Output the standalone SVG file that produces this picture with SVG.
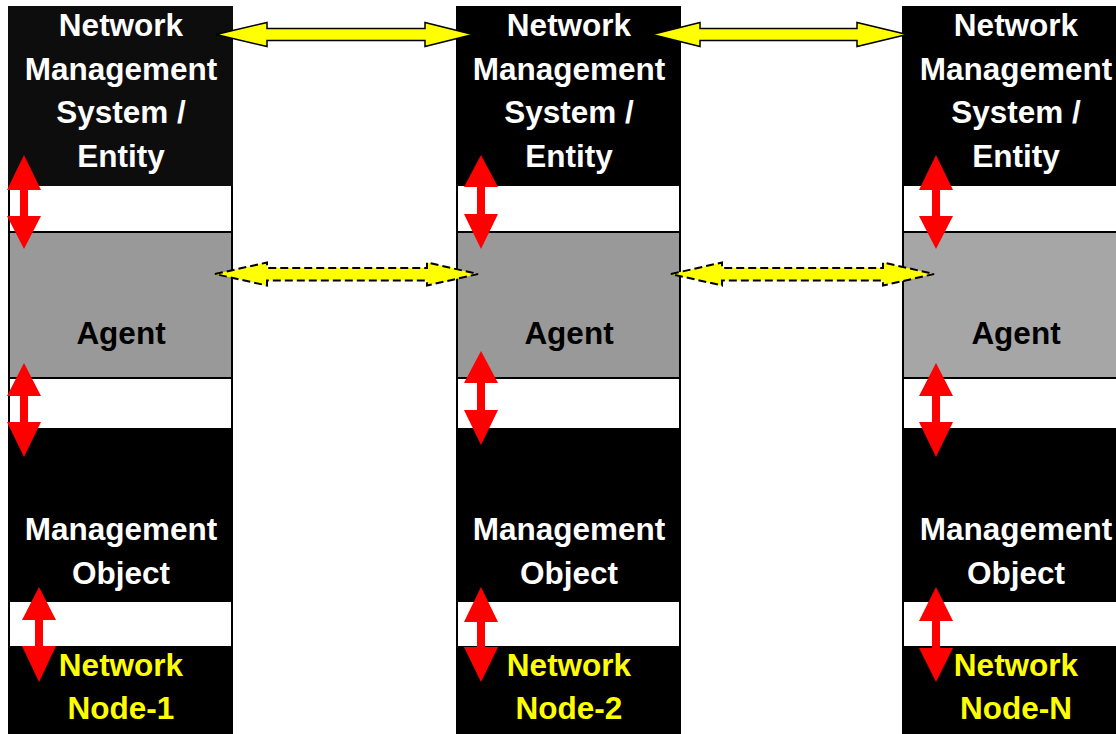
<svg xmlns="http://www.w3.org/2000/svg" width="1116" height="734" viewBox="0 0 1116 734">
<style>
text{font-family:"Liberation Sans",Arial,sans-serif;font-weight:bold;font-size:31.5px;text-anchor:middle}
.w{fill:#fff}.k{fill:#000}.y{fill:#ff0}
.red{fill:#f00}
.ys{fill:#ff0;stroke:#000;stroke-width:1.5;stroke-linejoin:miter}
.yd{fill:#ff0;stroke:#000;stroke-width:2;stroke-dasharray:8 4}
</style>
<rect width="1116" height="734" fill="#fff"/>

<g id="node1">
<rect x="8" y="6" width="225" height="730" fill="#000"/>
<rect x="8" y="6" width="225" height="180" fill="#0d0d0d"/>
<rect x="10" y="186" width="221" height="45" fill="#fff"/>
<rect x="10" y="233" width="221" height="144" fill="#999"/>
<rect x="10" y="379" width="221" height="49" fill="#fff"/>
<rect x="10" y="602" width="221" height="44" fill="#fff"/>
<text class="w" x="121" y="36">Network</text>
<text class="w" x="121" y="80">Management</text>
<text class="w" x="121" y="123">System /</text>
<text class="w" x="121" y="167">Entity</text>
<text class="k" x="121" y="344">Agent</text>
<text class="w" x="121" y="540">Management</text>
<text class="w" x="121" y="584">Object</text>
<text class="y" x="121" y="676">Network</text>
<text class="y" x="121" y="719">Node-1</text>
</g>

<g id="node2">
<rect x="456" y="6" width="225" height="730" fill="#000"/>
<rect x="458" y="186" width="221" height="45" fill="#fff"/>
<rect x="458" y="233" width="221" height="144" fill="#999"/>
<rect x="458" y="379" width="221" height="49" fill="#fff"/>
<rect x="458" y="602" width="221" height="44" fill="#fff"/>
<text class="w" x="569" y="36">Network</text>
<text class="w" x="569" y="80">Management</text>
<text class="w" x="569" y="123">System /</text>
<text class="w" x="569" y="167">Entity</text>
<text class="k" x="569" y="344">Agent</text>
<text class="w" x="569" y="540">Management</text>
<text class="w" x="569" y="584">Object</text>
<text class="y" x="569" y="676">Network</text>
<text class="y" x="569" y="719">Node-2</text>
</g>

<g id="nodeN">
<rect x="902" y="6" width="225" height="730" fill="#000"/>
<rect x="904" y="186" width="221" height="45" fill="#fff"/>
<rect x="904" y="233" width="221" height="144" fill="#a6a6a6"/>
<rect x="904" y="379" width="221" height="49" fill="#fff"/>
<rect x="904" y="602" width="221" height="44" fill="#fff"/>
<text class="w" x="1016" y="36">Network</text>
<text class="w" x="1016" y="80">Management</text>
<text class="w" x="1016" y="123">System /</text>
<text class="w" x="1016" y="167">Entity</text>
<text class="k" x="1016" y="344">Agent</text>
<text class="w" x="1016" y="540">Management</text>
<text class="w" x="1016" y="584">Object</text>
<text class="y" x="1016" y="676">Network</text>
<text class="y" x="1016" y="719">Node-N</text>
</g>

<g id="connectors">
<polygon class="red" points="24,155 41,190 28,190 28,216 41,216 24,249 7,216 20,216 20,190 7,190"/>
<polygon class="red" points="24,363 41,396 28,396 28,422 41,422 24,457 7,422 20,422 20,396 7,396"/>
<polygon class="red" points="39,587 56,620 43,620 43,646 56,646 39,682 22,646 35,646 35,620 22,620"/>
<polygon class="red" points="481,155 498,187 485,187 485,214 498,214 481,249 464,214 477,214 477,187 464,187"/>
<polygon class="red" points="481,351 498,383 485,383 485,410 498,410 481,445 464,410 477,410 477,383 464,383"/>
<polygon class="red" points="481,587 498,622 485,622 485,647 498,647 481,682 464,647 477,647 477,622 464,622"/>
<polygon class="red" points="936,155 953,190 940,190 940,216 953,216 936,249 919,216 932,216 932,190 919,190"/>
<polygon class="red" points="936,363 953,396 940,396 940,422 953,422 936,457 919,422 932,422 932,396 919,396"/>
<polygon class="red" points="936,587 953,621 940,621 940,648 953,648 936,682 919,648 932,648 932,621 919,621"/>

<polygon class="ys" points="216,34.5 267,22.5 267,28.5 425,28.5 425,22.5 473,34.5 425,46.5 425,40.5 267,40.5 267,46.5"/>
<polygon class="ys" points="652,34.5 700,22.5 700,28.5 857,28.5 857,22.5 907,34.5 857,46.5 857,40.5 700,40.5 700,46.5"/>

<polygon class="yd" points="215,274 267,262.5 267,268 427,268 427,262.5 478,274 427,285.5 427,280.5 267,280.5 267,285.5"/>
<polygon class="yd" points="671,274 722,262.5 722,268 883,268 883,262.5 934,274 883,285.5 883,280.5 722,280.5 722,285.5"/>
</g>
</svg>
